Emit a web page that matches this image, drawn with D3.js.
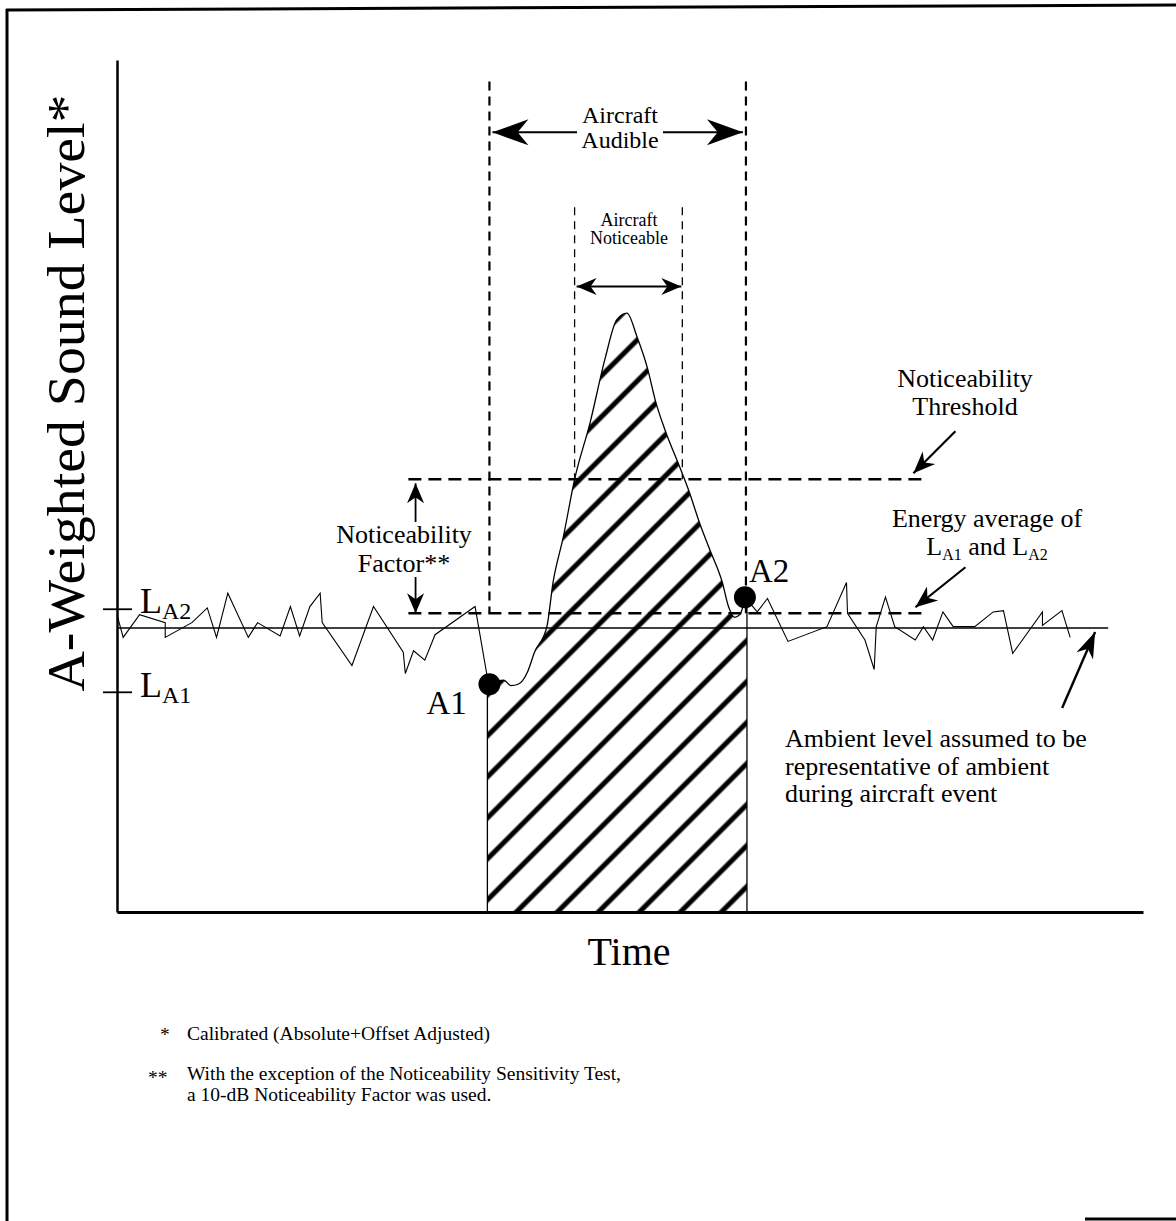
<!DOCTYPE html>
<html>
<head>
<meta charset="utf-8">
<script src="https://cdn.jsdelivr.net/npm/d3@7"></script>
<style>
  html, body { margin: 0; padding: 0; background: #fff; }
  svg { display: block; font-family: "Liberation Serif", "Times New Roman", serif; }
</style>
</head>
<body>
<svg id="chart" width="1176" height="1221"></svg>
<script>
// time in arbitrary units (0-100), level in dB(A)
var ambientLeft = [[0, 62.2], [0.6, 60.5], [2.2, 62.2], [4.7, 61.6], [4.7, 60.5], [7.3, 61.6], [8.8, 62.7],
  [9.7, 60.5], [10.8, 63.8], [12.8, 60.5], [13.7, 61.6], [15.9, 60.6], [16.9, 62.8], [17.8, 60.6],
  [18.8, 62.8], [19.8, 63.8], [20.0, 61.6], [22.9, 58.4], [25.0, 62.8], [27.9, 59.4], [28.1, 57.8],
  [28.9, 59.5], [30.0, 58.8], [31.0, 60.7], [34.9, 62.8], [36.1, 57.5], [36.3, 57.0]];

var eventCurve = [[36.3, 57.0], [37.0, 57.2], [37.7, 57.3], [38.4, 56.9], [39.1, 57.0], [40.0, 57.9],
  [40.7, 59.4], [41.9, 61.3], [42.5, 64.6], [43.5, 68.0], [44.6, 72.3], [46.1, 76.5], [47.6, 81.4],
  [48.7, 84.2], [49.7, 84.7], [50.7, 82.9], [51.7, 80.6], [52.5, 78.1], [53.5, 75.8], [54.7, 73.5],
  [55.8, 71.3], [56.8, 69.0], [57.8, 67.0], [59.0, 64.6], [59.6, 62.8], [60.2, 62.0], [60.7, 62.2],
  [61.0, 62.8], [61.2, 63.5]];

var ambientRight = [[61.2, 63.5], [62.4, 62.4], [63.4, 63.4], [65.4, 60.2], [69.2, 61.3], [71.1, 64.6],
  [71.2, 62.3], [72.9, 60.3], [73.8, 58.1], [74.0, 61.3], [74.9, 63.5], [75.8, 61.3], [77.8, 60.3],
  [78.6, 61.3], [79.5, 60.3], [80.5, 62.4], [81.5, 61.3], [83.6, 61.3], [85.4, 62.4], [86.4, 62.5],
  [87.3, 59.3], [90.2, 62.4], [90.2, 61.4], [92.1, 62.5], [92.9, 60.5]];

var ambientLevel = 61.2, ambientEnd = 96.6;
var energyAverage = 62.3, noticeabilityFactor = 10;
var levelA1 = 56.4, levelA2 = 62.6;
var pointA1 = [36.3, 57.0], pointA2 = [61.2, 63.5];
var eventSpan = [36.1, 61.4];
var audibleSpan = [36.3, 61.3], audibleTop = 102.0;
var noticeableSpan = [44.6, 55.1], noticeableTop = 92.6;
var guideSpan = [28.4, 78.5];

(function() {
  var svg = d3.select('#chart');
  var x = d3.scaleLinear().domain([0, 100]).range([117, 1143]),
      y = d3.scaleLinear().domain([40, 103.6]).range([912, 60]);
  var threshold = energyAverage + noticeabilityFactor;

  var defs = svg.append('defs');
  defs.append('pattern')
      .attr('id', 'hatch')
      .attr('patternUnits', 'userSpaceOnUse')
      .attr('width', 29).attr('height', 29)
      .attr('patternTransform', 'rotate(-45)')
    .append('line')
      .attr('x1', -1).attr('x2', 30).attr('y1', 24).attr('y2', 24)
      .attr('stroke', '#000').attr('stroke-width', 5);

  // page frame (scan edges)
  var frame = svg.append('g').attr('stroke', '#000').attr('stroke-width', 3);
  frame.append('line').attr('x1', 6).attr('y1', 10).attr('x2', 1176).attr('y2', 5);
  frame.append('line').attr('x1', 7).attr('y1', 9).attr('x2', 7).attr('y2', 1221);
  frame.append('line').attr('x1', 1085).attr('y1', 1219).attr('x2', 1176).attr('y2', 1219);

  // hatched event energy
  var hatchPts = [[eventSpan[0], pointA1[1]]].concat(eventCurve, [[eventSpan[1], energyAverage]]);
  svg.append('path')
      .datum(hatchPts)
      .attr('fill', 'url(#hatch)')
      .attr('d', d3.area().x(function(d) { return x(d[0]); }).y0(y(40)).y1(function(d) { return y(d[1]); })
        .curve(d3.curveMonotoneX));

  var line = d3.line().x(function(d) { return x(d[0]); }).y(function(d) { return y(d[1]); });

  svg.append('path').datum(eventCurve)
      .attr('fill', 'none').attr('stroke', '#000').attr('stroke-width', 1.3)
      .attr('d', line.curve(d3.curveMonotoneX));
  line.curve(d3.curveLinear);

  svg.append('path').datum([[eventSpan[0], pointA1[1]], [eventSpan[0], 40]])
      .attr('stroke', '#000').attr('stroke-width', 1.3).attr('d', line);
  svg.append('path').datum([[eventSpan[1], pointA2[1]], [eventSpan[1], 40]])
      .attr('stroke', '#000').attr('stroke-width', 1.3).attr('d', line);

  // ambient
  svg.append('path').datum([[0, ambientLevel], [ambientEnd, ambientLevel]])
      .attr('stroke', '#000').attr('stroke-width', 1.3).attr('d', line);
  [ambientLeft, ambientRight].forEach(function(s) {
    svg.append('path').datum(s)
        .attr('fill', 'none').attr('stroke', '#000').attr('stroke-width', 1.1)
        .attr('stroke-linejoin', 'miter')
        .attr('d', line);
  });

  // dashed guides
  [threshold, energyAverage].forEach(function(l) {
    svg.append('path').datum([[guideSpan[0], l], [guideSpan[1], l]])
        .attr('stroke', '#000').attr('stroke-width', 2.4).attr('stroke-dasharray', '13,7')
        .attr('d', line);
  });
  audibleSpan.forEach(function(t) {
    svg.append('path').datum([[t, audibleTop], [t, energyAverage]])
        .attr('stroke', '#000').attr('stroke-width', 2.2).attr('stroke-dasharray', '9,6')
        .attr('d', line);
  });
  noticeableSpan.forEach(function(t) {
    svg.append('path').datum([[t, noticeableTop], [t, threshold]])
        .attr('stroke', '#000').attr('stroke-width', 1.3).attr('stroke-dasharray', '8,6')
        .attr('d', line);
  });

  // axes
  svg.append('g')
      .attr('transform', 'translate(0,' + y(40) + ')')
      .call(d3.axisBottom(x).tickValues([]).tickSizeOuter(0))
      .select('.domain').attr('stroke-width', 3);
  svg.append('g')
      .attr('transform', 'translate(' + x(0) + ',0)')
      .call(d3.axisLeft(y).tickValues([]).tickSizeOuter(0))
      .select('.domain').attr('stroke-width', 2.5);

  [levelA1, levelA2].forEach(function(l) {
    svg.append('line')
        .attr('x1', x(0) - 14).attr('x2', x(0) + 15)
        .attr('y1', y(l)).attr('y2', y(l))
        .attr('stroke', '#000').attr('stroke-width', 1.8);
  });

  // arrows
  function head(from, to, len, half) {
    var dx = to[0] - from[0], dy = to[1] - from[1], d = Math.sqrt(dx * dx + dy * dy);
    var ux = dx / d, uy = dy / d, px = -uy, py = ux;
    var bx = to[0] - ux * len, by = to[1] - uy * len,
        nx = to[0] - ux * len * 0.7, ny = to[1] - uy * len * 0.7;
    svg.append('path')
        .attr('fill', '#000')
        .attr('d', 'M' + to + 'L' + [bx + px * half, by + py * half] + 'L' + [nx, ny] +
          'L' + [bx - px * half, by - py * half] + 'Z');
  }
  function arrow(from, to, len, half, w, both) {
    svg.append('line')
        .attr('x1', from[0]).attr('y1', from[1]).attr('x2', to[0]).attr('y2', to[1])
        .attr('stroke', '#000').attr('stroke-width', w);
    head(from, to, len, half);
    if (both) head(to, from, len, half);
  }

  var ya = y(98.2);
  arrow([577, ya], [x(audibleSpan[0]) + 3, ya], 36, 13, 2);
  arrow([663, ya], [x(audibleSpan[1]) - 3, ya], 36, 13, 2);
  var yn = y(86.7);
  arrow([x(noticeableSpan[0]) + 2, yn], [x(noticeableSpan[1]) - 1, yn], 20, 8.5, 2, true);

  var xf = x(29.1);
  arrow([xf, 522], [xf, y(threshold) + 4], 20, 8.5, 1.8);
  arrow([xf, 577], [xf, y(energyAverage)], 20, 8.5, 1.8);

  var tipT = [x(guideSpan[1]) - 9, y(threshold) - 6];
  arrow([tipT[0] + 42, tipT[1] - 42], tipT, 22, 9, 2.2);
  var tipE = [x(guideSpan[1]) - 7, y(energyAverage) - 6];
  arrow([tipE[0] + 50, tipE[1] - 40], tipE, 22, 9, 2.2);
  var tipA = [x(ambientEnd) - 13, y(ambientLevel) + 4];
  arrow([tipA[0] - 33, tipA[1] + 76], tipA, 26, 9, 2.4);

  // A1 / A2 markers
  svg.selectAll('circle.pt')
      .data([pointA1, pointA2])
      .enter().append('circle')
      .attr('class', 'pt')
      .attr('cx', function(d) { return x(d[0]); })
      .attr('cy', function(d) { return y(d[1]); })
      .attr('r', 11)
      .attr('fill', '#000');

  // text
  function txt(px, py, size, str, anchor) {
    return svg.append('text')
        .attr('x', px).attr('y', py)
        .attr('text-anchor', anchor || 'middle')
        .style('font-size', size + 'px')
        .text(str);
  }
  function sub(t, main, s, size) {
    t.append('tspan').text(main);
    t.append('tspan').attr('dy', size * 0.25).style('font-size', size + 'px').text(s);
    return t;
  }

  svg.append('text')
      .attr('transform', 'translate(84,393) rotate(-90)')
      .attr('text-anchor', 'middle')
      .attr('textLength', 597).attr('lengthAdjust', 'spacingAndGlyphs')
      .style('font-size', '52px')
      .text('A-Weighted Sound Level*');
  txt(629, 965, 40, 'Time');

  var la2 = svg.append('text').attr('x', 140).attr('y', y(levelA2) + 4).style('font-size', '36px');
  sub(la2, 'L', 'A2', 24);
  var la1 = svg.append('text').attr('x', 140).attr('y', y(levelA1) + 5).style('font-size', '36px');
  sub(la1, 'L', 'A1', 24);

  txt(x(pointA1[0]) - 63, y(pointA1[1]) + 30, 33, 'A1', 'start');
  txt(x(pointA2[0]) + 4, y(pointA2[1]) - 15, 33, 'A2', 'start');

  txt(620, 123, 24, 'Aircraft');
  txt(620, 148, 24, 'Audible');
  txt(629, 226, 18, 'Aircraft');
  txt(629, 244, 18, 'Noticeable');

  txt(404, 543, 26, 'Noticeability');
  txt(404, 572, 26, 'Factor**');
  txt(965, 387, 26, 'Noticeability');
  txt(965, 415, 26, 'Threshold');
  txt(987, 527, 26, 'Energy average of');
  var ea = svg.append('text').attr('x', 987).attr('y', 555).attr('text-anchor', 'middle').style('font-size', '26px');
  ea.append('tspan').text('L');
  ea.append('tspan').attr('dy', 5).style('font-size', '16px').text('A1');
  ea.append('tspan').attr('dy', -5).text(' and L');
  ea.append('tspan').attr('dy', 5).style('font-size', '16px').text('A2');

  txt(785, 747, 26, 'Ambient level assumed to be', 'start');
  txt(785, 775, 26, 'representative of ambient', 'start');
  txt(785, 802, 26, 'during aircraft event', 'start');

  txt(160, 1041, 19.5, '*', 'start');
  txt(187, 1040, 19.5, 'Calibrated (Absolute+Offset Adjusted)', 'start');
  txt(148, 1084, 19.5, '**', 'start');
  txt(187, 1080, 19.5, 'With the exception of the Noticeability Sensitivity Test,', 'start');
  txt(187, 1101, 19.5, 'a 10-dB Noticeability Factor was used.', 'start');
})();
</script>
</body>
</html>
